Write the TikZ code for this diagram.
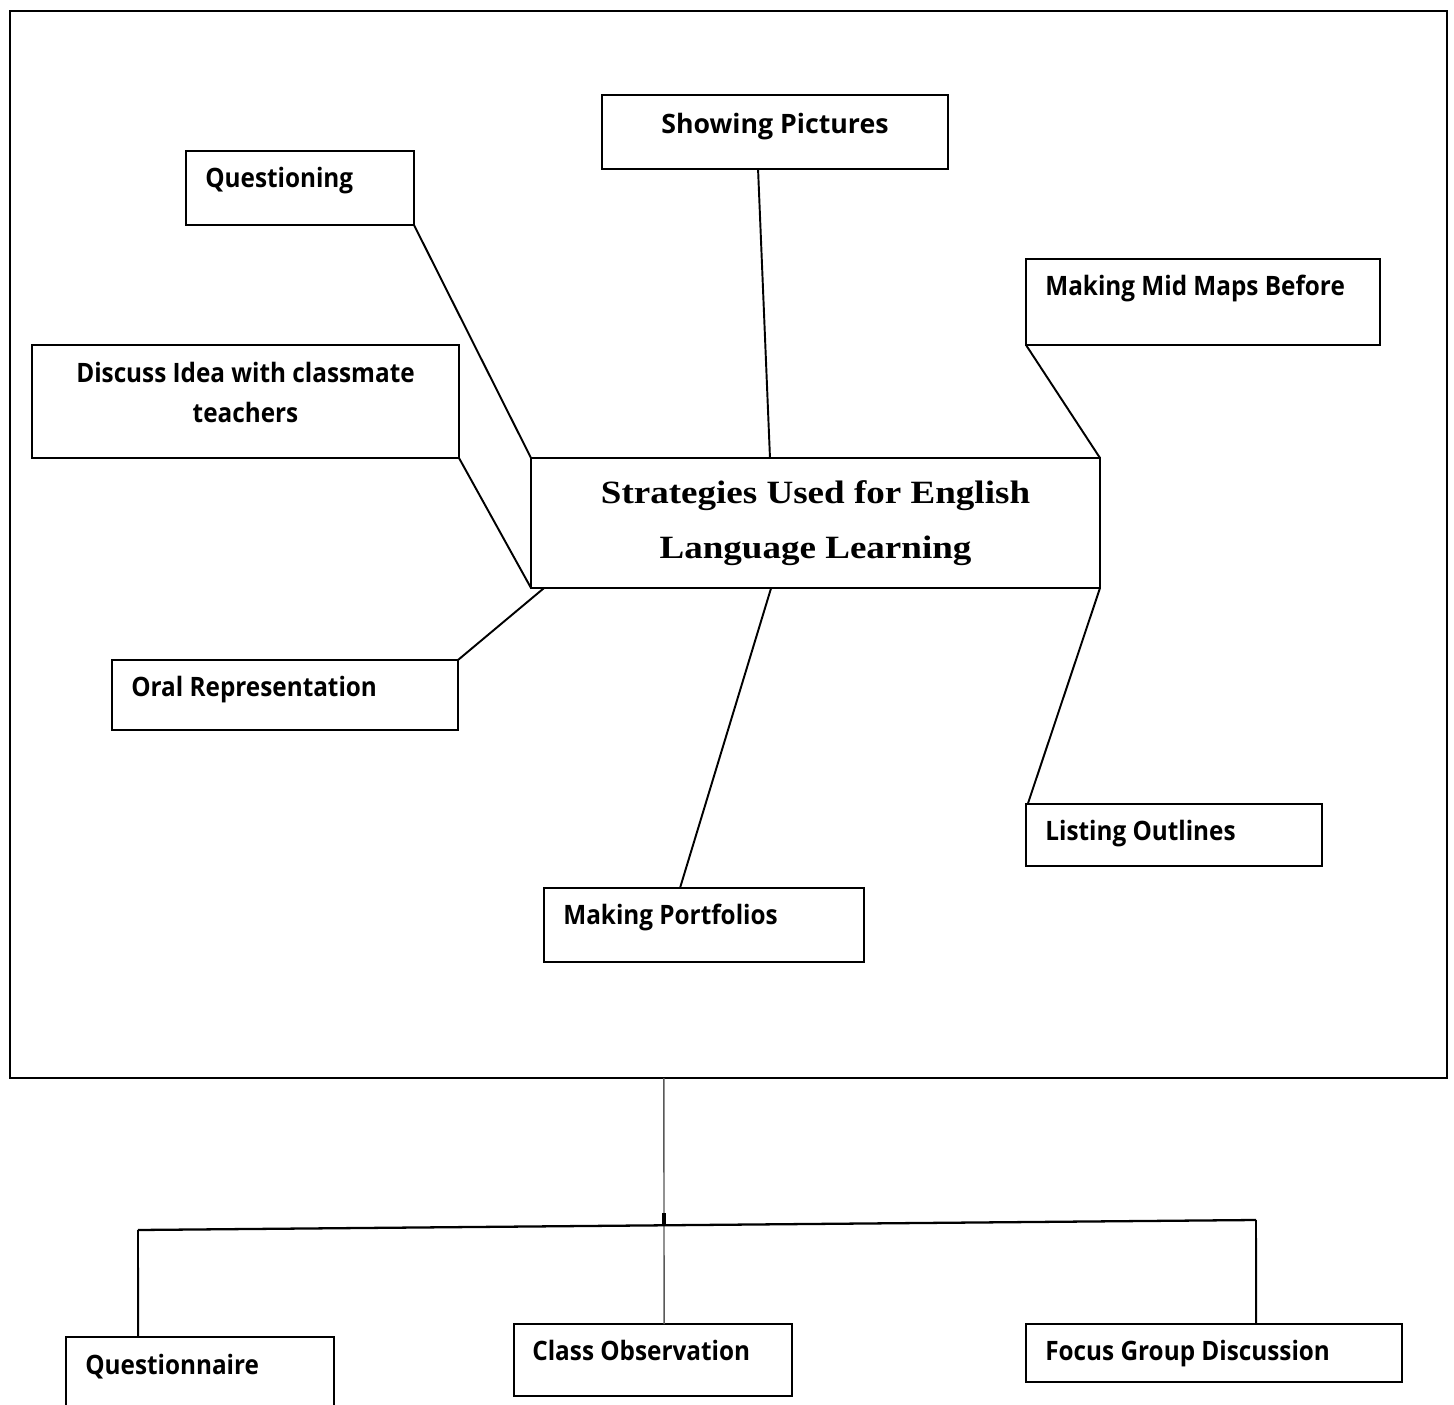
\documentclass[tikz,border=0pt]{standalone}
\usepackage{fontspec}
\setmainfont{Liberation Serif}
\newfontfamily\boxfont[FakeStretch=0.91]{Open Sans}
\newfontfamily\widefont{Open Sans}
\newfontfamily\titlefont[FakeStretch=1.14]{Liberation Serif}
\usetikzlibrary{calc}
\def\pxu{0.02cm}
\tikzset{
  box/.style={draw, line width=1.1pt, inner sep=0pt, outer sep=0pt, anchor=north west},
  lbl/.style={font=\boxfont\bfseries\fontsize{15.2}{22.7}\selectfont, inner sep=0pt},
  widelbl/.style={font=\widefont\bfseries\fontsize{15.2}{22.7}\selectfont, inner sep=0pt},
  conn/.style={line width=1.1pt},
  thin conn/.style={line width=0.8pt, draw=black!65},
}
\begin{document}
\begin{tikzpicture}[x=0.02cm,y=-0.02cm]
\clip (0,0) rectangle (1454,1405);
\fill[white] (0,0) rectangle (1454,1405);

% outer frame
\node[box, minimum width=1437*\pxu, minimum height=1067*\pxu] (frame) at (10,11) {};

% central box
\node[box, minimum width=569*\pxu, minimum height=130*\pxu,
      font=\titlefont\bfseries\fontsize{18.5}{31}\selectfont, align=center] (center) at (531,458)
      {Strategies Used for English\\[0pt]Language Learning};

% satellite boxes
\node[box, minimum width=346*\pxu, minimum height=74*\pxu] (pics) at (602,95) {};
\node[widelbl, anchor=north] (picsT) at ([yshift=-18*\pxu]pics.north) {Showing Pictures};

\node[box, minimum width=228*\pxu, minimum height=74*\pxu] (quest) at (186,151) {};
\node[lbl, anchor=north west] (questT) at ([xshift=19*\pxu,yshift=-16*\pxu]quest.north west) {Questioning};

\node[box, minimum width=354*\pxu, minimum height=86*\pxu] (mid) at (1026,259) {};
\node[lbl, anchor=north west] (midT) at ([xshift=19*\pxu,yshift=-16*\pxu]mid.north west) {Making Mid Maps Before};

\node[box, minimum width=427*\pxu, minimum height=113*\pxu] (disc) at (32,345) {};
\node[lbl, anchor=north, align=center] (discT) at ([yshift=-17*\pxu]disc.north) {Discuss Idea with classmate\\teachers};

\node[box, minimum width=346*\pxu, minimum height=70*\pxu] (oral) at (112,660) {};
\node[lbl, anchor=north west] (oralT) at ([xshift=19*\pxu,yshift=-16*\pxu]oral.north west) {Oral Representation};

\node[box, minimum width=296*\pxu, minimum height=62*\pxu] (list) at (1026,804) {};
\node[lbl, anchor=north west] (listT) at ([xshift=19*\pxu,yshift=-16*\pxu]list.north west) {Listing Outlines};

\node[box, minimum width=320*\pxu, minimum height=74*\pxu] (port) at (544,888) {};
\node[lbl, anchor=north west] (portT) at ([xshift=19*\pxu,yshift=-16*\pxu]port.north west) {Making Portfolios};

% bottom boxes
\node[box, minimum width=268*\pxu, minimum height=90*\pxu] (quaire) at (66,1337) {};
\node[lbl, anchor=north west] (quaireT) at ([xshift=19*\pxu,yshift=-17*\pxu]quaire.north west) {Questionnaire};

\node[box, minimum width=278*\pxu, minimum height=72*\pxu] (obs) at (514,1324) {};
\node[lbl, anchor=north west] (obsT) at ([xshift=18*\pxu,yshift=-16*\pxu]obs.north west) {Class Observation};

\node[box, minimum width=376*\pxu, minimum height=58*\pxu] (focus) at (1026,1324) {};
\node[lbl, anchor=north west] (focusT) at ([xshift=19*\pxu,yshift=-16*\pxu]focus.north west) {Focus Group Discussion};

% connectors inside frame
\draw[conn] (quest.south east) -- (center.north west);
\draw[conn] ($(pics.south west)!0.451!(pics.south east)$) -- ($(center.north west)!0.42!(center.north east)$);
\draw[conn] (mid.south west) -- (center.north east);
\draw[conn] (disc.south east) -- (center.south west);
\draw[conn] (oral.north east) -- ($(center.south west)!0.023!(center.south east)$);
\draw[conn] ($(center.south west)!0.422!(center.south east)$) -- ($(port.north west)!0.425!(port.north east)$);
\draw[conn] (center.south east) -- ($(list.north west)!0.006!(list.north east)$);

% tree below frame
\coordinate (hl) at (138,1230);
\coordinate (hr) at (1256,1220);
\coordinate (jn) at (664,1225);
\draw[thin conn] ($(frame.south west)!0.455!(frame.south east)$) -- ($(obs.north west)!0.54!(obs.north east)$);
\draw[line width=1.3pt] (hl) -- (hr);
\draw[conn] (hl) -- ($(quaire.north west)!0.269!(quaire.north east)$);
\draw[conn] (hr) -- ($(focus.north west)!0.612!(focus.north east)$);
\draw[line width=2.2pt] (664,1213) -- (jn);
\end{tikzpicture}
\end{document}
